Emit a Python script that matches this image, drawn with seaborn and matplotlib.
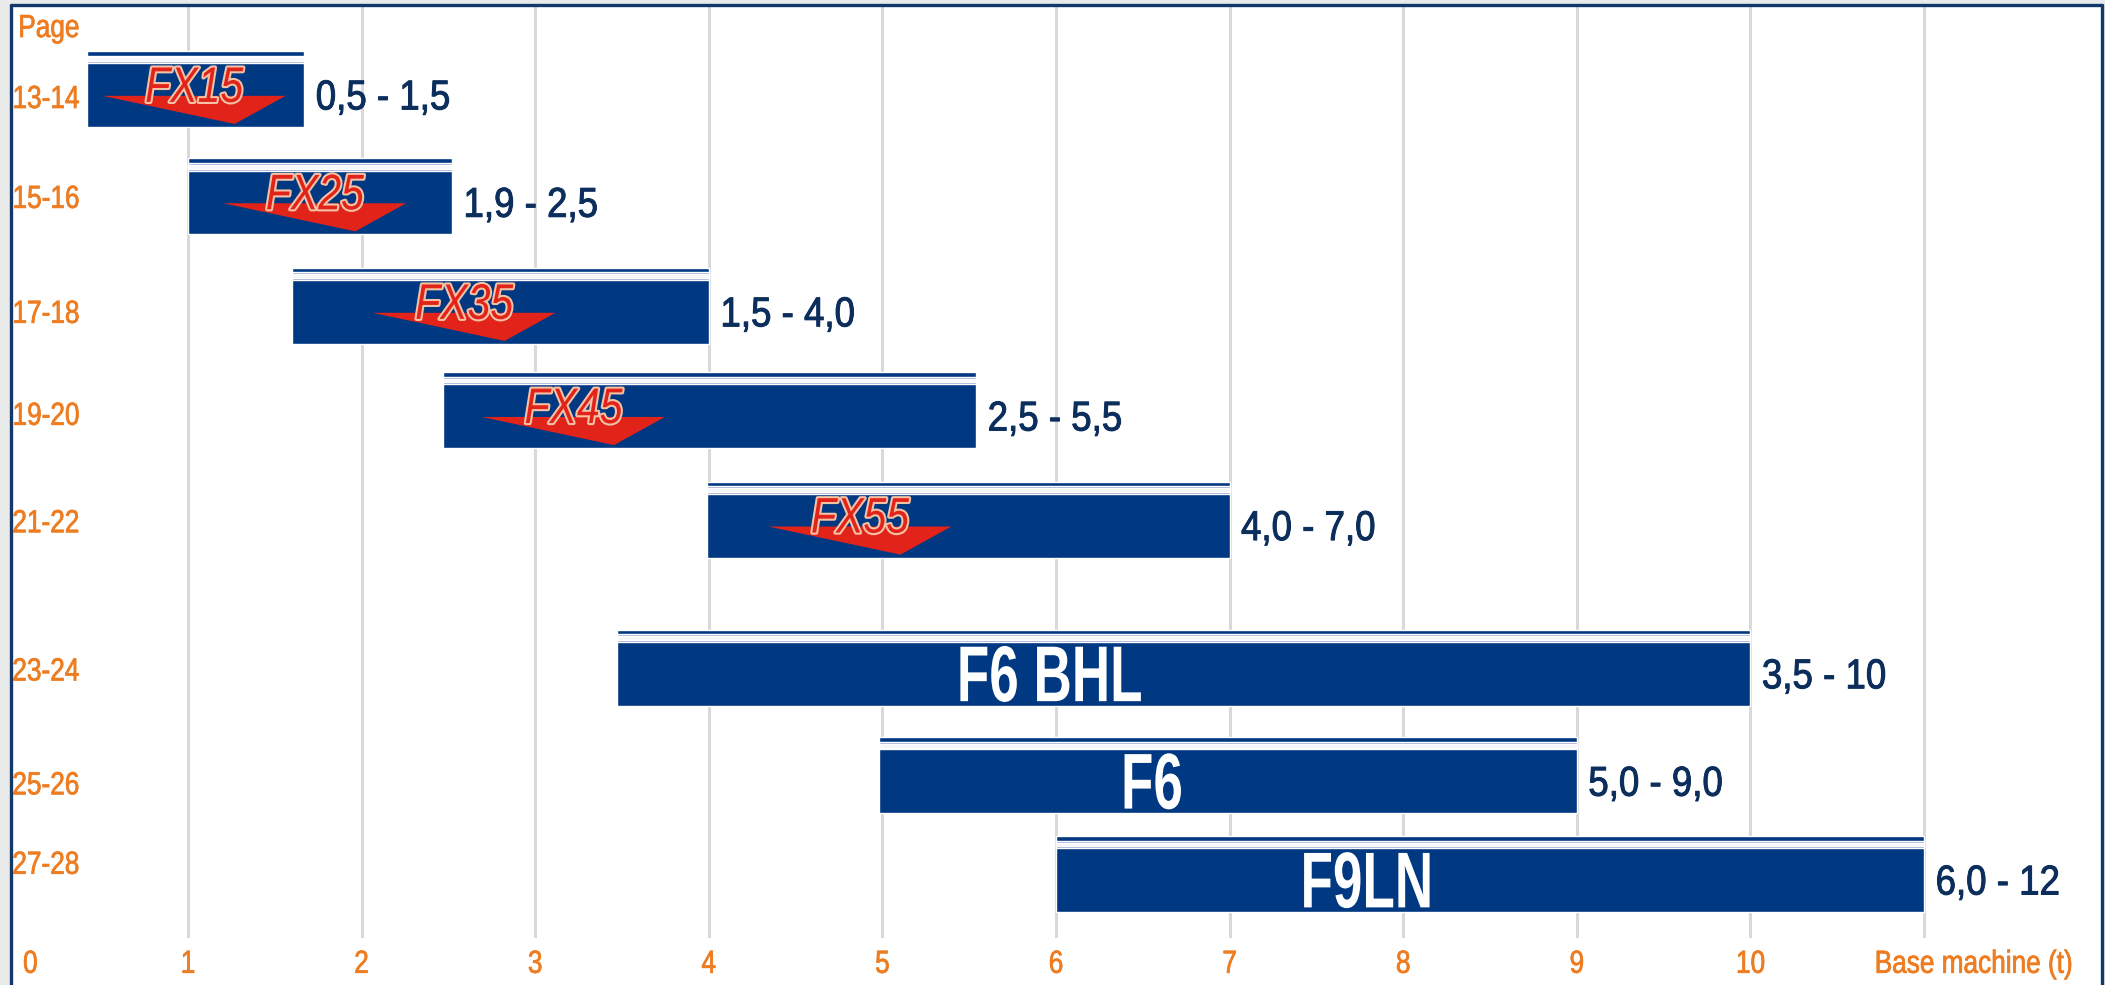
import numpy as np
import matplotlib
matplotlib.use("Agg")
import matplotlib.pyplot as plt
import matplotlib.patheffects as pe
from matplotlib.lines import Line2D
from matplotlib.patches import Polygon, Rectangle
from matplotlib.transforms import ScaledTranslation, Affine2D
import seaborn as sns

# data
models = ["FX15", "FX25", "FX35", "FX45", "FX55", "F6 BHL", "F6", "F9LN"]
pages = ["13-14", "15-16", "17-18", "19-20", "21-22", "23-24", "25-26", "27-28"]
ranges = ["0,5 - 1,5", "1,9 - 2,5", "1,5 - 4,0", "2,5 - 5,5", "4,0 - 7,0",
          "3,5 - 10", "5,0 - 9,0", "6,0 - 12"]
bar_start = [0.42, 1.0, 1.6, 2.47, 3.99, 3.47, 4.98, 6.0]
bar_end = [1.67, 2.52, 4.0, 5.54, 7.0, 10.0, 9.0, 11.0]
row_pos = [0.0, 1.0, 2.02, 2.99, 4.01, 5.39, 6.39, 7.31]
page_pos = [0.07, 1.0, 2.07, 3.02, 4.02, 5.40, 6.46, 7.20]
logo_x = [1.035, 1.73, 2.59, 3.22, 4.87, 5.96, 6.55, 7.79]
x_ticks = list(range(0, 12))
x_labels = [str(i) for i in range(0, 11)] + ["Base machine (t)"]

NAVY = "#003882"
FRAME = "#13396b"
ORANGE = "#ee7d22"
LABEL = "#0c2e5c"
RED = "#e2231a"


class Squeeze(pe.AbstractPathEffect):
    """Draw text narrower (condensed look) around its left edge or centre."""

    def __init__(self, sx, anchor="center", effects=None):
        super().__init__()
        self.sx = sx
        self.anchor = anchor
        self.effects = effects or [pe.Normal()]

    def draw_path(self, renderer, gc, tpath, affine, rgbFace=None):
        ext = tpath.get_extents()
        cx = ext.x0 if self.anchor == "left" else (ext.x0 + ext.x1) / 2
        aff = Affine2D().translate(-cx, 0).scale(self.sx, 1).translate(cx, 0) + affine
        for e in self.effects:
            e.draw_path(renderer, gc, tpath, aff, rgbFace)


def orange_fx(anchor):
    return [Squeeze(0.82, anchor, [pe.Stroke(linewidth=0.5, foreground=ORANGE), pe.Normal()])]


sns.set_theme(style="white")
plt.rcParams["font.family"] = ["Liberation Sans", "DejaVu Sans"]

W, H = 2105, 985
fig = plt.figure(figsize=(W / 100, H / 100), dpi=100, facecolor="#e9ebea")
fig.add_artist(Rectangle((10 / W, 0), 2092 / W, 981 / H, transform=fig.transFigure,
                         facecolor="white", edgecolor="none", zorder=0))
ax = fig.add_axes([10 / W, 47 / H, 2092 / W, 933 / H])
ax.set_facecolor("white")

h = 0.708
starts = np.array(bar_start)
ends = np.array(bar_end)
rows = np.array(row_pos)
top = rows - h / 2

ax.barh(rows, ends - starts, left=starts, height=h, color=NAVY, zorder=2)
# light stripe near the top of each bar
ax.barh(top + 0.11 * h, ends - starts, left=starts, height=0.10 * h,
        color="#8e9acb", zorder=3)
ax.barh(top + 0.11 * h, ends - starts, left=starts, height=0.05 * h,
        color="#f6f7fc", zorder=3)

for i, m in enumerate(models):
    lx = logo_x[i]
    t = top[i]
    if m.startswith("FX"):
        tri = Polygon([(lx - 0.527, t + 0.59 * h), (lx + 0.527, t + 0.59 * h),
                       (lx + 0.234, t + 0.96 * h)], closed=True,
                      facecolor=RED, edgecolor="none", zorder=4)
        ax.add_patch(tri)
        ax.text(lx, t + 0.67 * h, m, ha="center", va="baseline", color=RED,
                fontsize=36, style="italic", zorder=5,
                path_effects=[Squeeze(0.82, "center",
                                      [pe.Stroke(linewidth=3, foreground="#f3c2a4"), pe.Normal()])])
    else:
        ax.text(lx, rows[i] + 0.31, m, ha="center", va="baseline", color="white",
                fontsize=57, fontweight="bold", zorder=5,
                path_effects=[Squeeze(0.67, "center")])
    ax.text(ends[i] + 0.065, rows[i] + 0.19, ranges[i], ha="left", va="baseline",
            color=LABEL, fontsize=30, zorder=5,
            path_effects=[Squeeze(0.88, "left",
                                  [pe.Stroke(linewidth=0.7, foreground=LABEL), pe.Normal()])])

ax.set_xlim(-0.025, 12.025)
ax.set_ylim(7.905, -0.782)

ax.set_xticks(x_ticks)
ax.set_xticklabels(x_labels)
ax.set_yticks(page_pos)
ax.set_yticklabels(pages)
ax.grid(axis="x", color="#d9d9d9", linewidth=2.2, zorder=1)
ax.grid(axis="y", visible=False)
ax.set_axisbelow(True)
ax.get_xgridlines()[0].set_visible(False)

ax.tick_params(axis="x", length=0, pad=8.5, labelsize=23, labelcolor=ORANGE)
ax.tick_params(axis="y", length=0, pad=-1.5, labelsize=23, labelcolor=ORANGE)
for lbl in ax.get_yticklabels():
    lbl.set_horizontalalignment("left")
    lbl.set_path_effects(orange_fx("left"))
xl = ax.get_xticklabels()
for lbl in xl:
    lbl.set_path_effects(orange_fx("center"))
xl[0].set_horizontalalignment("left")
xl[0].set_path_effects(orange_fx("left"))
xl[0].set_transform(xl[0].get_transform() + ScaledTranslation(0.085, 0, fig.dpi_scale_trans))
xl[-1].set_transform(xl[-1].get_transform() + ScaledTranslation(0.5, 0, fig.dpi_scale_trans))

ax.text(0.02, -0.484, "Page", ha="left", va="baseline", color=ORANGE,
        fontsize=23, path_effects=orange_fx("left"))

for s in ax.spines.values():
    s.set_visible(False)

# navy frame around the panel
fig.add_artist(Line2D([10.5 / W, 10.5 / W], [0, 1 - 4.5 / H], transform=fig.transFigure,
                      color=FRAME, linewidth=2.4))
fig.add_artist(Line2D([10.5 / W, 2102 / W], [1 - 4.5 / H, 1 - 4.5 / H], transform=fig.transFigure,
                      color=FRAME, linewidth=2.4))
fig.add_artist(Line2D([2102 / W, 2102 / W], [0, 1 - 4.5 / H], transform=fig.transFigure,
                      color=FRAME, linewidth=2.4))

fig.savefig("out.png", dpi=100, facecolor=fig.get_facecolor())
